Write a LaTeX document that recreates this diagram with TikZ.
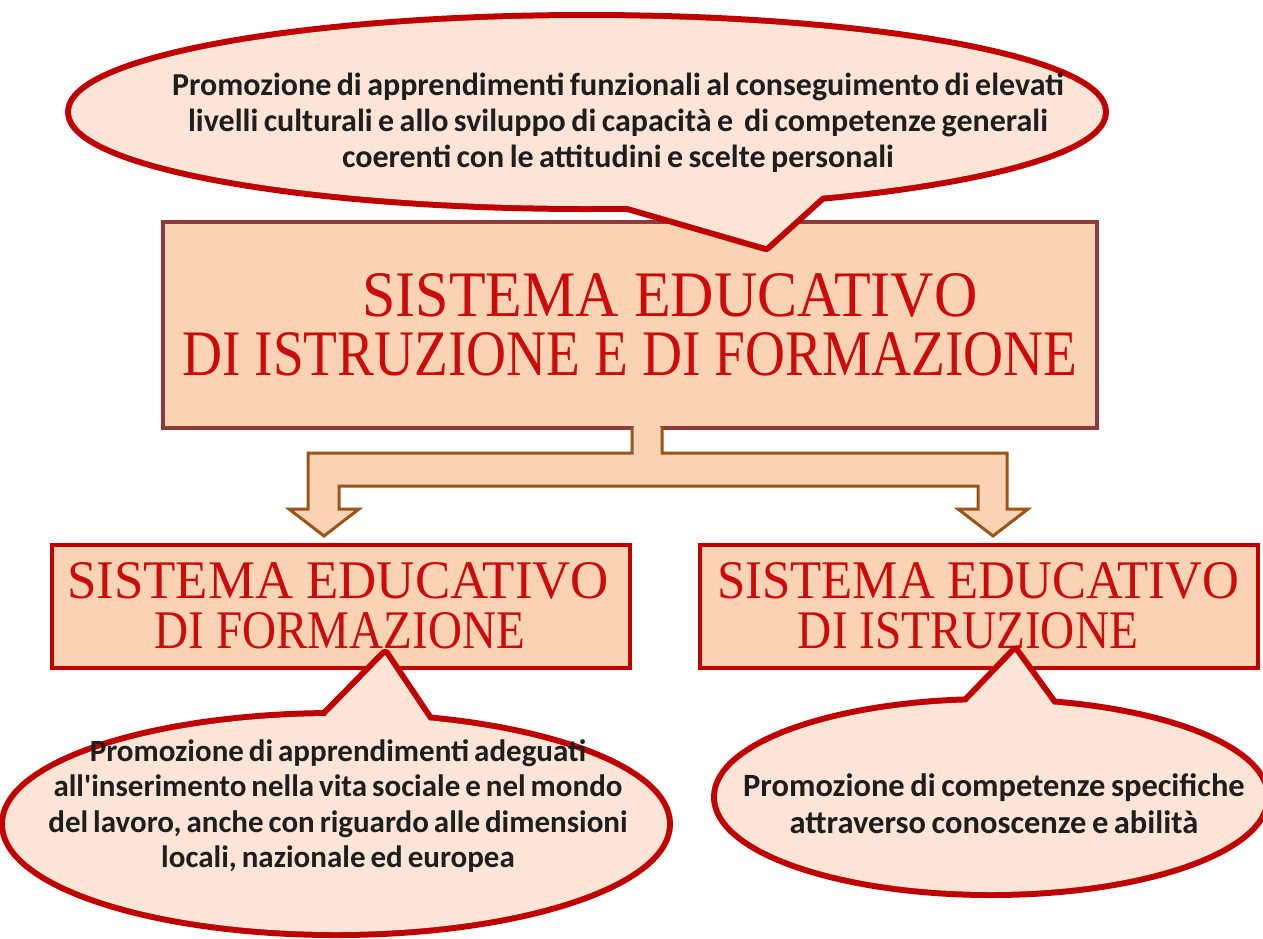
\documentclass[tikz,border=0pt]{standalone}
\usepackage{fontspec}
\setmainfont{Carlito}
\newfontfamily\titlefont{Liberation Serif}
\usetikzlibrary{shapes.geometric,calc}
\newcommand\notesp[1]{\spaceskip=#1em\relax}
\definecolor{peach}{HTML}{FAD3B4}
\definecolor{notefill}{HTML}{FCE4D6}
\definecolor{boxred}{HTML}{C00000}
\definecolor{mainedge}{HTML}{8E3B3B}
\definecolor{arrowedge}{HTML}{9A5518}
\definecolor{titlered}{HTML}{CC0A0A}
\definecolor{ink}{HTML}{1E1E1E}
\tikzset{
  mainbox/.style={draw=mainedge, line width=4pt, fill=peach, minimum width=934pt, minimum height=206pt, inner sep=0pt},
  subbox/.style={draw=boxred, line width=4.5pt, fill=peach, minimum height=123pt, inner sep=0pt},
  title/.style={text=titlered, anchor=base, inner sep=0pt},
  notetext/.style={text=ink, align=center, inner sep=0pt},
  noteline/.style={draw=boxred, line width=12pt, line join=round},
  notebody/.style={fill=notefill},
  blockarrow/.style={draw=arrowedge, line width=3pt, fill=peach, line join=miter}
}
\begin{document}
\begin{tikzpicture}[x=1pt,y=-1pt]
\useasboundingbox (0,0) rectangle (1263,938);
\fill[white] (0,0) rectangle (1263,938);

% boxes
\node[mainbox] (main) at (630,325) {};
\node[subbox, minimum width=578pt] (left) at (341,606.5) {};
\node[subbox, minimum width=558pt] (right) at (979,606.5) {};

% titles
\node[title] (mt1) at (670,316) {\resizebox{615pt}{43pt}{\titlefont SISTEMA EDUCATIVO}};
\node[title] (mt2) at (630,375) {\resizebox{895pt}{43pt}{\titlefont DI ISTRUZIONE E DI FORMAZIONE}};
\node[title] (lt1) at (338,598) {\resizebox{542pt}{36pt}{\titlefont SISTEMA EDUCATIVO}};
\node[title] (lt2) at (340,648) {\resizebox{370pt}{36pt}{\titlefont DI FORMAZIONE}};
\node[title] (rt1) at (978,598) {\resizebox{522pt}{36pt}{\titlefont SISTEMA EDUCATIVO}};
\node[title] (rt2) at (968,648) {\resizebox{340pt}{36pt}{\titlefont DI ISTRUZIONE}};

% block arrow
\filldraw[blockarrow]
  (632,427) -- (632,453) -- (308,453) -- (308,509) -- (289,509) -- (324,536) -- (359,509)
  -- (339,509) -- (339,486) -- (978,486) -- (978,509) -- (958,509) -- (993,536) -- (1028,509)
  -- (1007,509) -- (1007,453) -- (662,453) -- (662,427);
\fill[peach] (634,424) rectangle (660,450);

% top callout
\coordinate (ttip) at (766,246);
\draw[noteline] (587,112) ellipse [x radius=516, y radius=94];
\draw[noteline] (576,191) -- (ttip) -- (839,180);
\fill[notebody] (587,112) ellipse [x radius=516, y radius=94];
\fill[notebody] (576,191) -- (ttip) -- (839,180) -- cycle;
\node[notetext, font=\fontsize{32}{36}\selectfont\bfseries\notesp{0.17}] (topnote) at (618,122.5) {Promozione di apprendimenti funzionali al conseguimento di elevati\\livelli culturali e allo sviluppo di capacità e \ di competenze generali\\coerenti con le attitudini e scelte personali};

% left callout
\coordinate (ltip) at (385,655);
\draw[noteline] (336,824) ellipse [x radius=331, y radius=108];
\draw[noteline] (290,752) -- (ltip) -- (450,752);
\fill[notebody] (336,824) ellipse [x radius=331, y radius=108];
\fill[notebody] (290,752) -- (ltip) -- (450,752) -- cycle;
\node[notetext, font=\fontsize{31}{35.5}\selectfont\bfseries\notesp{0.16}] (leftnote) at (338,806) {Promozione di apprendimenti adeguati\\all\textquotesingle inserimento nella vita sociale e nel mondo\\del lavoro, anche con riguardo alle dimensioni\\locali, nazionale ed europea};

% right callout
\coordinate (rtip) at (1015,652);
\draw[noteline] (991,797) ellipse [x radius=274, y radius=95];
\draw[noteline] (945,725) -- (rtip) -- (1070,728);
\fill[notebody] (991,797) ellipse [x radius=274, y radius=95];
\fill[notebody] (945,725) -- (rtip) -- (1070,728) -- cycle;
\node[notetext, font=\fontsize{32.5}{37}\selectfont\bfseries\notesp{0.17}] (rightnote) at (994,803.5) {Promozione di competenze specifiche\\attraverso conoscenze e abilità};
\end{tikzpicture}
\end{document}
